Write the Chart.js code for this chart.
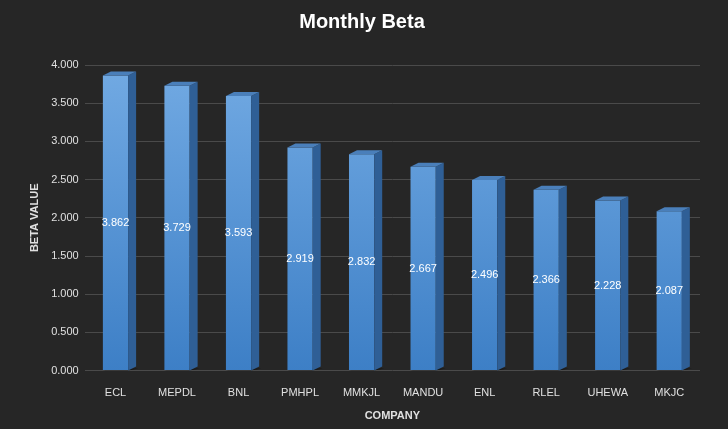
<!DOCTYPE html>
<html>
<head>
<meta charset="utf-8">
<script src="https://cdn.jsdelivr.net/npm/chart.js@4"></script>
<style>
  html, body { margin: 0; padding: 0; background: #262626; }
  #wrap { width: 728px; height: 429px; }
</style>
</head>
<body>
<div id="wrap"><canvas id="betaChart"></canvas></div>
<script>
const companies = ['ECL', 'MEPDL', 'BNL', 'PMHPL', 'MMKJL', 'MANDU', 'ENL', 'RLEL', 'UHEWA', 'MKJC'];
const betaValues = [3.862, 3.729, 3.593, 2.919, 2.832, 2.667, 2.496, 2.366, 2.228, 2.087];

const DX = 8, DY = -4;

// draws the side and top faces plus the floor shadow so the bars look like Excel 3D columns
const bars3d = {
    id: 'bars3d',
    beforeDatasetsDraw(chart) {
        const ctx = chart.ctx;
        const bottom = chart.scales.y.getPixelForValue(0);
        chart.getDatasetMeta(0).data.forEach(bar => {
            const left = bar.x - bar.width / 2;
            ctx.fillStyle = 'rgba(0,0,0,0.45)';
            ctx.beginPath();
            ctx.moveTo(left, bottom);
            ctx.lineTo(left + bar.width, bottom);
            ctx.lineTo(left + bar.width + DX + 2, bottom + DY + 2);
            ctx.lineTo(left + DX + 2, bottom + DY + 2);
            ctx.closePath();
            ctx.fill();
        });
    },
    afterDatasetsDraw(chart) {
        const ctx = chart.ctx;
        const bottom = chart.scales.y.getPixelForValue(0);
        chart.getDatasetMeta(0).data.forEach(bar => {
            const left = bar.x - bar.width / 2;
            const right = left + bar.width;
            const top = bar.y;
            ctx.fillStyle = '#2f5f96';
            ctx.beginPath();
            ctx.moveTo(right, top);
            ctx.lineTo(right + DX, top + DY);
            ctx.lineTo(right + DX, bottom + DY);
            ctx.lineTo(right, bottom);
            ctx.closePath();
            ctx.fill();
            ctx.fillStyle = '#4a7fba';
            ctx.beginPath();
            ctx.moveTo(left, top);
            ctx.lineTo(left + DX, top + DY);
            ctx.lineTo(right + DX, top + DY);
            ctx.lineTo(right, top);
            ctx.closePath();
            ctx.fill();
        });
        ctx.save();
        ctx.fillStyle = '#ffffff';
        ctx.font = '11px "Liberation Sans", Arial, sans-serif';
        ctx.textAlign = 'center';
        ctx.textBaseline = 'middle';
        chart.getDatasetMeta(0).data.forEach((bar, i) => {
            ctx.fillText(betaValues[i].toFixed(3), bar.x, (bar.y + bottom) / 2);
        });
        ctx.restore();
    }
};

const chartCtx = document.getElementById('betaChart');

new Chart(chartCtx, {
    type: 'bar',
    data: {
        labels: companies,
        datasets: [{
            label: 'Beta',
            data: betaValues,
            backgroundColor(context) {
                const area = context.chart.chartArea;
                if (!area) return '#5b9bd5';
                const g = context.chart.ctx.createLinearGradient(0, area.top, 0, area.bottom);
                g.addColorStop(0, '#72aae3');
                g.addColorStop(1, '#3d7fc6');
                return g;
            },
            barPercentage: 0.41,
            categoryPercentage: 1
        }]
    },
    options: {
        responsive: true,
        maintainAspectRatio: false,
        animation: false,
        layout: { padding: { left: 24, right: 28, top: 4, bottom: 2 } },
        plugins: {
            legend: { display: false },
            tooltip: { enabled: false },
            title: {
                display: true,
                text: 'Monthly Beta',
                color: '#ffffff',
                font: { size: 20, weight: 'bold', family: '"Liberation Sans", Arial, sans-serif' },
                padding: { top: 6, bottom: 31 }
            }
        },
        scales: {
            x: {
                grid: { display: false },
                border: { display: false },
                ticks: { color: '#e0e0e0', font: { size: 11 }, padding: 8 },
                title: {
                    display: true, text: 'COMPANY', color: '#e0e0e0',
                    font: { size: 11, weight: 'bold' }, padding: { top: 2 }
                }
            },
            y: {
                min: 0,
                max: 4,
                ticks: {
                    stepSize: 0.5,
                    color: '#e0e0e0',
                    font: { size: 11 },
                    padding: 6,
                    callback: v => v.toFixed(3)
                },
                grid: { color: '#4a4a4a', drawTicks: false },
                border: { display: false },
                title: {
                    display: true, text: 'BETA VALUE', color: '#e0e0e0',
                    font: { size: 11, weight: 'bold' }
                }
            }
        }
    },
    plugins: [bars3d]
});
</script>
</body>
</html>
